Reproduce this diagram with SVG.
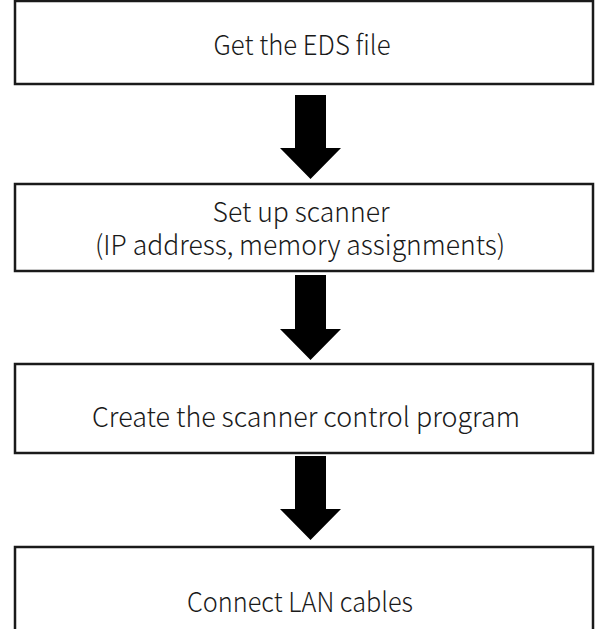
<svg xmlns="http://www.w3.org/2000/svg" width="601" height="629" viewBox="0 0 601 629">
  <style>
    .box { fill: #ffffff; stroke: #1a1a1a; stroke-width: 2.5; }
    .label { font-family: "Noto Sans CJK JP", "Noto Sans", sans-serif; font-size: 27px; font-weight: 300; fill: #1a1a1a; text-anchor: middle; }
    .arrow { fill: #000000; }
  </style>
  <rect width="601" height="629" fill="#ffffff"/>

  <g id="connectors">
    <polygon class="arrow" points="295,95 326,95 326,148 341,148 310.5,179 280,148 295,148"/>
    <polygon class="arrow" points="295,275 326,275 326,329 341,329 310.5,360 280,329 295,329"/>
    <polygon class="arrow" points="295,456 326,456 326,509 341,509 310.5,540 280,509 295,509"/>
  </g>

  <g id="step-eds">
    <rect class="box" x="15" y="1" width="578" height="83"/>
    <text class="label" x="302" y="55" textLength="177" lengthAdjust="spacingAndGlyphs">Get the EDS file</text>
  </g>

  <g id="step-scanner-setup">
    <rect class="box" x="15" y="184" width="578" height="87"/>
    <text class="label" x="301" y="222" textLength="177" lengthAdjust="spacingAndGlyphs">Set up scanner</text>
    <text class="label" x="300" y="255" textLength="410" lengthAdjust="spacingAndGlyphs">(IP address, memory assignments)</text>
  </g>

  <g id="step-control-program">
    <rect class="box" x="15" y="364" width="578" height="89"/>
    <text class="label" x="306" y="427" textLength="428" lengthAdjust="spacingAndGlyphs">Create the scanner control program</text>
  </g>

  <g id="step-lan">
    <rect class="box" x="15" y="547" width="578" height="100"/>
    <text class="label" x="300" y="612" textLength="226" lengthAdjust="spacingAndGlyphs">Connect LAN cables</text>
  </g>
</svg>
